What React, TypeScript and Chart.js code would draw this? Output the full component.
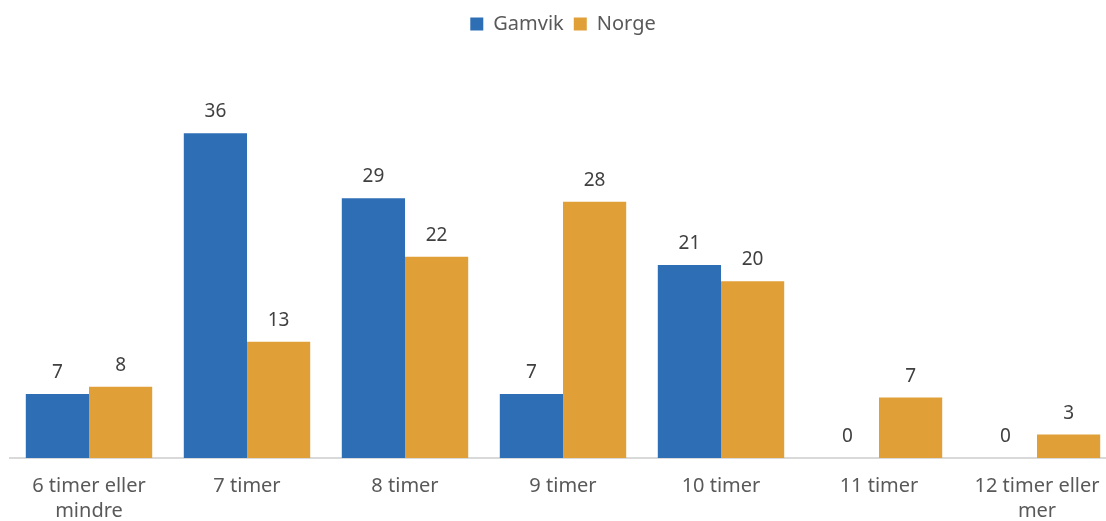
import React, { useEffect, useRef } from "react";
import { Chart, registerables } from "chart.js";

Chart.register(...registerables);

const categories: (string | string[])[] = [
  ["6 timer eller", "mindre"],
  "7 timer",
  "8 timer",
  "9 timer",
  "10 timer",
  "11 timer",
  ["12 timer eller", "mer"],
];
const gamvik = [7.1, 36.0, 28.8, 7.1, 21.4, 0, 0];
const norge = [7.9, 12.9, 22.3, 28.4, 19.6, 6.7, 2.6];
const seriesNames = ["Gamvik", "Norge"];
const colors = ["#2E6EB5", "#E09F37"];

const FONT = "'Noto Sans', 'Open Sans', sans-serif";

const labelPlugin = {
  id: "valueLabels",
  afterDatasetsDraw(chart: any) {
    const ctx = chart.ctx;
    ctx.save();
    ctx.font = `19px ${FONT}`;
    ctx.fillStyle = "#404040";
    ctx.textAlign = "center";
    ctx.textBaseline = "alphabetic";
    chart.data.datasets.forEach((ds: any, i: number) => {
      const meta = chart.getDatasetMeta(i);
      meta.data.forEach((el: any, j: number) => {
        const v = ds.data[j];
        ctx.fillText(String(Math.round(v)), el.x, el.y - 16);
      });
    });
    ctx.restore();
  },
};

export default function App() {
  const ref = useRef<HTMLCanvasElement>(null);
  useEffect(() => {
    if (!ref.current) return;
    const chart = new Chart(ref.current, {
      type: "bar",
      data: {
        labels: categories,
        datasets: [
          { label: seriesNames[0], data: gamvik, backgroundColor: colors[0] },
          { label: seriesNames[1], data: norge, backgroundColor: colors[1] },
        ],
      },
      options: {
        animation: false,
        responsive: false,
        maintainAspectRatio: false,
        layout: { padding: { left: 10, right: 2, top: 4, bottom: 0 } },
        datasets: {
          bar: { categoryPercentage: 0.8, barPercentage: 1.0 },
        },
        plugins: {
          legend: {
            position: "top",
            labels: {
              boxWidth: 13,
              boxHeight: 13,
              padding: 10,
              color: "#595959",
              font: { size: 20, family: FONT },
            },
          },
          tooltip: { enabled: false },
        },
        scales: {
          x: {
            grid: { display: false, drawTicks: false },
            border: { display: true, color: "#D9D9D9", width: 2 },
            ticks: {
              color: "#595959",
              font: { size: 20, family: FONT, lineHeight: 1.25 },
              padding: 16,
              maxRotation: 0,
              autoSkip: false,
            },
            afterFit: (scale: any) => {
              scale.height = 63;
            },
          },
          y: {
            display: false,
            min: 0,
            max: 45.9,
          },
        },
      },
      plugins: [labelPlugin],
    });
    return () => chart.destroy();
  }, []);
  return (
    <div
      style={{
        position: "fixed",
        left: 0,
        top: 0,
        width: 1106,
        height: 521,
        overflow: "hidden",
        background: "#fff",
      }}
    >
      <canvas ref={ref} width={1118} height={521} style={{ display: "block" }} />
    </div>
  );
}
